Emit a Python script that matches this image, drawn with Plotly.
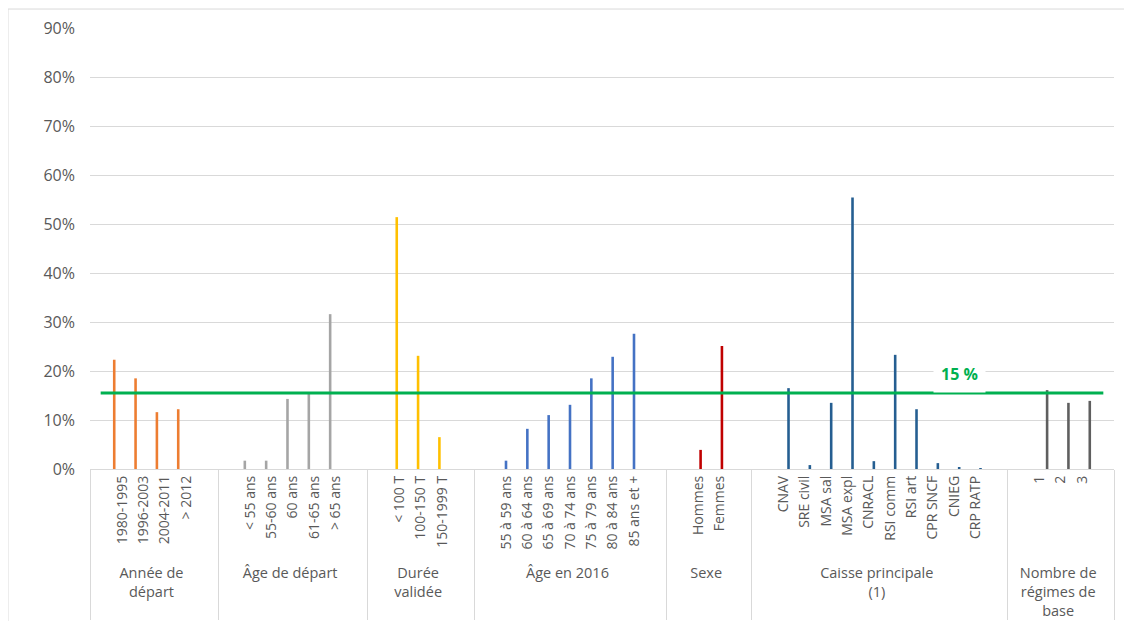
import plotly.graph_objects as go

# ---- data (values in %) ----
annee_label = "Année de<br>départ"
annee_cats = ["1980-1995", "1996-2003", "2004-2011", "> 2012"]
annee_vals = [22.3, 18.5, 11.6, 12.2]

age_dep_label = "Âge de départ"
age_dep_cats = ["< 55 ans", "55-60 ans", "60 ans", "61-65 ans", "> 65 ans"]
age_dep_vals = [1.7, 1.7, 14.3, 15.4, 31.6]

duree_label = "Durée<br>validée"
duree_cats = ["< 100 T", "100-150 T", "150-1999 T"]
duree_vals = [51.4, 23.1, 6.5]

age2016_label = "Âge en 2016"
age2016_cats = ["55 à 59 ans", "60 à 64 ans", "65 à 69 ans", "70 à 74 ans",
                "75 à 79 ans", "80 à 84 ans", "85 ans et +"]
age2016_vals = [1.7, 8.2, 11.0, 13.1, 18.5, 22.9, 27.6]

sexe_label = "Sexe"
sexe_cats = ["Hommes", "Femmes"]
sexe_vals = [3.9, 25.1]

caisse_label = "Caisse principale<br>(1)"
caisse_cats = ["CNAV", "SRE civil", "MSA sal", "MSA expl", "CNRACL",
               "RSI comm", "RSI art", "CPR SNCF", "CNIEG", "CRP RATP"]
caisse_vals = [16.5, 0.8, 13.5, 55.4, 1.6, 23.3, 12.2, 1.2, 0.3, 0.2]

regimes_label = "Nombre de<br>régimes de<br>base"
regimes_cats = ["1", "2", "3"]
regimes_vals = [16.1, 13.5, 13.9]

moyenne = 15.5
moyenne_label = "15 %"

groups = [
    (annee_label, annee_cats, annee_vals, "#ED7D31"),
    (age_dep_label, age_dep_cats, age_dep_vals, "#A5A5A5"),
    (duree_label, duree_cats, duree_vals, "#FFC000"),
    (age2016_label, age2016_cats, age2016_vals, "#4472C4"),
    (sexe_label, sexe_cats, sexe_vals, "#C00000"),
    (caisse_label, caisse_cats, caisse_vals, "#255E91"),
    (regimes_label, regimes_cats, regimes_vals, "#5F5F5F"),
]

# inner (rotated) labels are a little smaller than the group labels
INNER_FONT = "<span style='font-size:14px'>{}</span>"


def inner_name(cat):
    return INNER_FONT.format(cat)


# full category list with an empty slot before and after each group
outer_all, inner_all = [], []
for g, (lab, cats, vals, col) in enumerate(groups):
    lead = " " * (2 * g + 1)
    trail = " " * (2 * g + 2)
    for c in [lead] + cats + [trail]:
        outer_all.append(lab)
        inner_all.append(inner_name(c))

fig = go.Figure()

fig.add_trace(go.Scatter(
    x=[outer_all, inner_all], y=[moyenne] * len(inner_all),
    mode="lines", line=dict(color="#00B050", width=3),
    showlegend=False, hoverinfo="skip"))

for k, (lab, cats, vals, col) in enumerate(groups):
    fig.add_trace(go.Bar(
        x=[[lab] * len(cats), [inner_name(c) for c in cats]], y=vals,
        marker=dict(color=col, line=dict(width=0)),
        offsetgroup=str(k), alignmentgroup="all",
        showlegend=False))

fig.add_annotation(
    xref="paper", yref="y", x=0.875, y=19.4,
    text="<b>" + moyenne_label + "</b>", showarrow=False,
    font=dict(family="Open Sans", size=16, color="#00B050"),
    bgcolor="white", borderpad=7)

# chart frame
fig.add_shape(type="rect", xref="paper", yref="paper",
              x0=-0.0801, x1=1.0166, y0=-0.6, y1=1.043,
              line=dict(color="#D9D9D9", width=1), layer="below")

fig.update_layout(
    width=1124, height=613,
    margin=dict(l=82, r=18, t=20, b=152, autoexpand=False),
    paper_bgcolor="white", plot_bgcolor="white",
    barmode="group", bargap=0.15, bargroupgap=0,
    font=dict(family="Open Sans", color="#595959", size=14),
)
fig.update_xaxes(
    type="multicategory", tickangle=-90, ticks="",
    range=[-0.5, len(inner_all) - 0.5], automargin=False,
    showline=True, linecolor="#D9D9D9", linewidth=1,
    showdividers=True, dividercolor="#D9D9D9", dividerwidth=1,
    tickfont=dict(size=14.5, color="#595959"),
    showgrid=False,
)
fig.update_yaxes(
    range=[0, 90], dtick=10, ticksuffix="%", automargin=False,
    showgrid=True, gridcolor="#D9D9D9", gridwidth=1,
    zeroline=False, showline=False, ticks="", ticklabelstandoff=14,
    tickfont=dict(size=16, color="#595959"),
)

fig.write_html("out.html")
